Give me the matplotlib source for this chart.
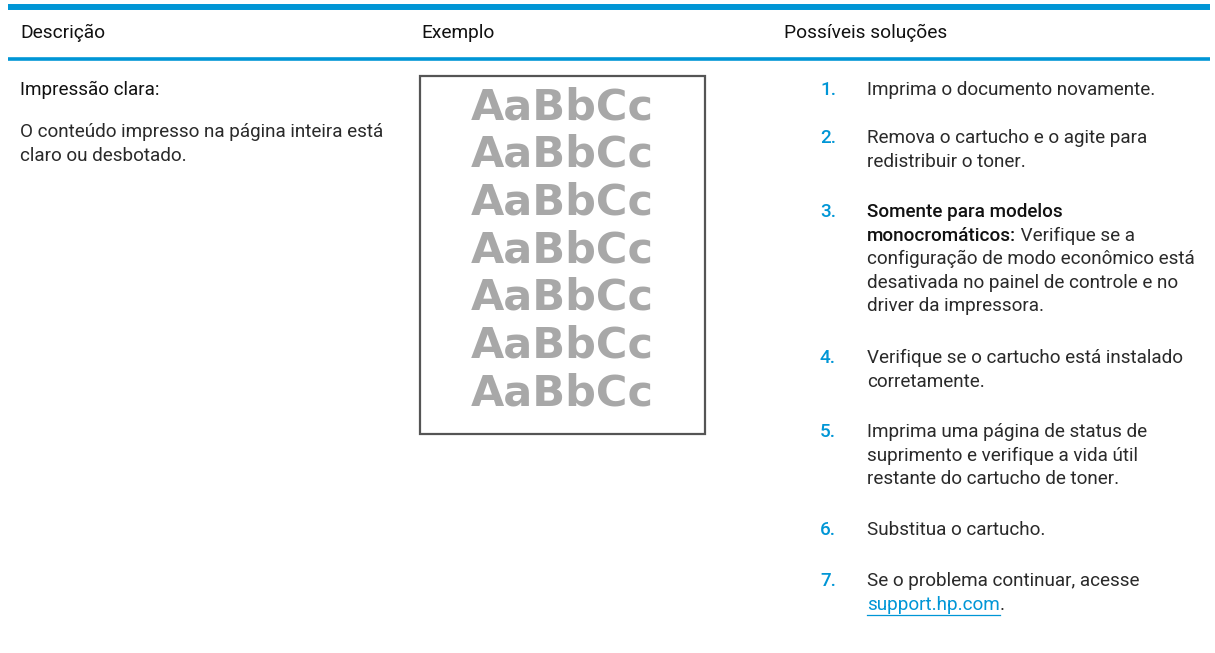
import matplotlib
matplotlib.use("Agg")
import matplotlib.pyplot as plt
from matplotlib.patches import Rectangle

# ---------------- content ----------------
headers = ["Descrição", "Exemplo", "Possíveis soluções"]
problem_title = "Impressão clara:"
problem_text = ["O conteúdo impresso na página inteira está", "claro ou desbotado."]
sample_word = "AaBbCc"
sample_rows = 7
step_numbers = ["1.", "2.", "3.", "4.", "5.", "6.", "7."]
# each step: list of lines; each line: list of (text, style)
steps = [
    [[("Imprima o documento novamente.", "body")]],
    [[("Remova o cartucho e o agite para", "body")],
     [("redistribuir o toner.", "body")]],
    [[("Somente para modelos", "bold")],
     [("monocromáticos:", "bold"), (" Verifique se a", "body")],
     [("configuração de modo econômico está", "body")],
     [("desativada no painel de controle e no", "body")],
     [("driver da impressora.", "body")]],
    [[("Verifique se o cartucho está instalado", "body")],
     [("corretamente.", "body")]],
    [[("Imprima uma página de status de", "body")],
     [("suprimento e verifique a vida útil", "body")],
     [("restante do cartucho de toner.", "body")]],
    [[("Substitua o cartucho.", "body")]],
    [[("Se o problema continuar, acesse", "body")],
     [("support.hp.com", "link"), (".", "body")]],
]
step_first_line_y = [90, 138, 212, 358, 432, 530, 581]

# ---------------- style ----------------
BLUE = "#0096D6"
TXT = "#2A2A2A"
FAM = "Roboto"
FS = 13.6
LINE = 23.6

fig = plt.figure(figsize=(12.15, 6.53), dpi=100)
ax = fig.add_axes([0, 0, 1, 1])
ax.set_xlim(0, 1215)
ax.set_ylim(653, 0)
ax.axis("off")

# rules
ax.plot([8, 1210], [7, 7], color=BLUE, lw=4.3, solid_capstyle="butt")
ax.plot([8, 1210], [59, 59], color=BLUE, lw=2.6, solid_capstyle="butt")

# headers
for x, h in zip([20, 421, 784], headers):
    ax.text(x, 33, h, fontsize=FS + 0.2, family=FAM, fontweight="normal", color="#111111", va="center")

# left column
ax.text(20, 90, problem_title, fontsize=FS, family=FAM, fontweight="normal", color="#111111", va="center")
for i, line in enumerate(problem_text):
    ax.text(20, 132 + i * LINE, line, fontsize=FS, family=FAM, fontweight="normal", color=TXT, va="center")

# example box
ax.add_patch(Rectangle((420, 76), 285, 358, fill=False, edgecolor="#555555", lw=1.6))
for i in range(sample_rows):
    ax.text(562, 107 + i * 47.7, sample_word, fontsize=31, family="DejaVu Sans", fontweight="bold",
            color="#A8A8A8", ha="center", va="center")

fig.canvas.draw()
renderer = fig.canvas.get_renderer()
inv = ax.transData.inverted()

styles = {
    "body": dict(fontweight="normal", color=TXT),
    "bold": dict(fontweight="medium", color="#111111"),
    "link": dict(fontweight="normal", color=BLUE),
}

for num, y0, lines in zip(step_numbers, step_first_line_y, steps):
    ax.text(820, y0, num, fontsize=FS, family=FAM, fontweight="medium", color=BLUE, va="center")
    for j, segs in enumerate(lines):
        y = y0 + j * LINE
        x = 867
        for txt, st in segs:
            t = ax.text(x, y, txt, fontsize=FS, family=FAM, va="center", **styles[st])
            bb = t.get_window_extent(renderer)
            x1 = inv.transform((bb.x1, bb.y0))[0]
            if st == "link":
                ax.plot([x, x1], [y + 10, y + 10], color=BLUE, lw=0.9)
            x = x1

fig.savefig("out.png", dpi=100, facecolor="white")
